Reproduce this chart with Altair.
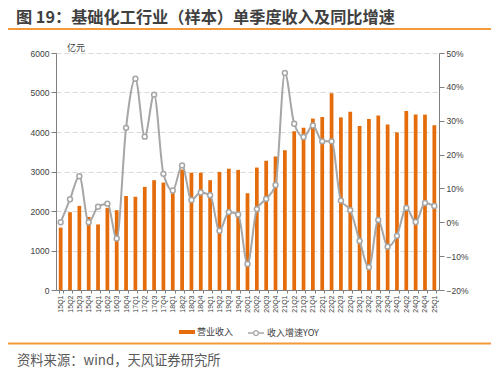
import altair as alt
import pandas as pd

quarters = ["15Q1", "15Q2", "15Q3", "15Q4", "16Q1", "16Q2", "16Q3", "16Q4",
            "17Q1", "17Q2", "17Q3", "17Q4", "18Q1", "18Q2", "18Q3", "18Q4",
            "19Q1", "19Q2", "19Q3", "19Q4", "20Q1", "20Q2", "20Q3", "20Q4",
            "21Q1", "21Q2", "21Q3", "21Q4", "22Q1", "22Q2", "22Q3", "22Q4",
            "23Q1", "23Q2", "23Q3", "23Q4", "24Q1", "24Q2", "24Q3", "24Q4",
            "25Q1"]
revenue = [1580, 1970, 2130, 1850, 1660, 2080, 2020, 2380,
           2360, 2610, 2780, 2720, 2450, 3050, 2970, 2970,
           2780, 2990, 3070, 3040, 2450, 3100, 3270, 3380,
           3540, 4020, 4110, 4340, 4380, 4980, 4370, 4510,
           4150, 4330, 4420, 4190, 3990, 4530, 4440, 4440,
           4170]
yoy = [0.0, 6.8, 13.6, 0.0, 4.6, 5.5, -4.8, 27.9,
       42.4, 25.3, 37.7, 14.3, 9.4, 16.8, 6.6, 8.8,
       8.0, -2.5, 3.0, 2.3, -12.3, 3.9, 6.9, 11.0,
       44.1, 29.1, 25.2, 28.6, 23.9, 23.9, 6.4, 3.6,
       -5.5, -13.3, 0.7, -7.2, -4.0, 4.2, 0.1, 5.7,
       4.8]
left_ticks = [0, 1000, 2000, 3000, 4000, 5000, 6000]
right_ticks = [-20, -10, 0, 10, 20, 30, 40, 50]

title_text = "图 19：基础化工行业（样本）单季度收入及同比增速"
source_text = "资料来源：wind，天风证券研究所"
unit_text = "亿元"
bar_name = "营业收入"
line_name = "收入增速YOY"

df = pd.DataFrame({"q": quarters, "rev": revenue, "yoy": yoy,
                   "s1": bar_name, "s2": line_name})

ORANGE = "#E46C0A"
GRAY = "#A6A6A6"
ACCENT = "#F39A3D"
FONT = "Noto Sans CJK SC"
AXC = "#7F7F7F"
TXT = "#404040"

xenc = alt.X("q:N", sort=quarters,
             scale=alt.Scale(paddingInner=0.6, paddingOuter=0.3),
             axis=alt.Axis(title=None, labelAngle=270, labelFontSize=7,
                           labelColor=TXT, tickBand="extent", tickSize=3,
                           tickColor=AXC, domainColor=AXC, labelPadding=2,
                           labelFont="Liberation Sans"))

bars = alt.Chart(df).mark_bar().encode(
    x=xenc,
    y=alt.Y("rev:Q", scale=alt.Scale(domain=[0, 6000]),
            axis=alt.Axis(title=None, values=left_ticks, grid=True, format="d",
                          gridDash=[5, 3], gridColor="#D9D9D9",
                          labelFontSize=8.5, labelColor=TXT, tickSize=5,
                          tickColor=AXC, domainColor=AXC, labelPadding=2,
                          labelFont="Liberation Sans")),
    color=alt.Color("s1:N", scale=alt.Scale(domain=[bar_name], range=[ORANGE]),
                    legend=alt.Legend(title=None, orient="none", legendX=123,
                                      legendY=271, padding=0,
                                      symbolType="M-1,-0.25H1V0.25H-1Z",
                                      symbolSize=256, symbolStrokeWidth=0,
                                      labelFontSize=9, labelColor=TXT,
                                      labelFont=FONT, labelOffset=2)),
)

yright = alt.Y("yoy:Q", scale=alt.Scale(domain=[-20, 50]),
               axis=alt.Axis(title=None, orient="right", values=right_ticks,
                             grid=False, labelExpr="format(datum.value/100, '.0%')",
                             labelFontSize=8.5, labelColor=TXT, tickSize=5,
                             tickColor=AXC, domainColor=AXC, labelPadding=2,
                             labelFont="Liberation Sans"))
line = alt.Chart(df).mark_line(strokeWidth=2, interpolate="monotone").encode(
    x=xenc,
    y=yright,
    stroke=alt.Stroke("s2:N", scale=alt.Scale(domain=[line_name], range=[GRAY]),
                      legend=alt.Legend(title=None, orient="none", legendX=191,
                                        legendY=271, padding=0,
                                        symbolType="M-1,0H-0.3M0.3,0H1M0.3,0A0.3,0.3 0 1,1 -0.3,0A0.3,0.3 0 1,1 0.3,0",
                                        symbolSize=256, symbolStrokeWidth=1.3,
                                        symbolFillColor="white",
                                        labelFontSize=9, labelColor=TXT,
                                        labelFont=FONT, labelOffset=2)),
)
points = alt.Chart(df).mark_point(filled=True, fill="white", stroke=GRAY,
                                  strokeWidth=1.5, size=24, opacity=1).encode(
    x=xenc,
    y=yright,
)
right = alt.layer(line, points)

one = pd.DataFrame({"t": [0]})
title = alt.Chart(one).mark_text(text=title_text, font=FONT, fontSize=16.2,
                                 fontWeight="bold", color=TXT, align="left",
                                 baseline="middle").encode(
    x=alt.value(-40), y=alt.value(-35))
rule_top = alt.Chart(one).mark_rule(color=ACCENT, strokeWidth=2).encode(
    x=alt.value(-50), x2=alt.value(437), y=alt.value(-24))
rule_bot = alt.Chart(one).mark_rule(color=ACCENT, strokeWidth=2).encode(
    x=alt.value(-50), x2=alt.value(437), y=alt.value(290.5))
source = alt.Chart(one).mark_text(text=source_text, font=FONT, fontSize=13.3,
                                  color="#595959", align="left",
                                  baseline="middle").encode(
    x=alt.value(-39), y=alt.value(308))
unit = alt.Chart(one).mark_text(text=unit_text, font=FONT, fontSize=9,
                                color=TXT, align="left",
                                baseline="middle").encode(
    x=alt.value(11), y=alt.value(-5))

chart = alt.layer(bars, right, title, rule_top, rule_bot, source, unit).resolve_scale(
    y="independent").properties(
    width=383, height=237,
    autosize=alt.AutoSizeParams(type="none"),
    padding={"left": 48, "top": 45, "right": 52, "bottom": 78},
).configure_view(stroke=None)

chart.save("out.html", embed_options={"renderer": "svg", "actions": False})
